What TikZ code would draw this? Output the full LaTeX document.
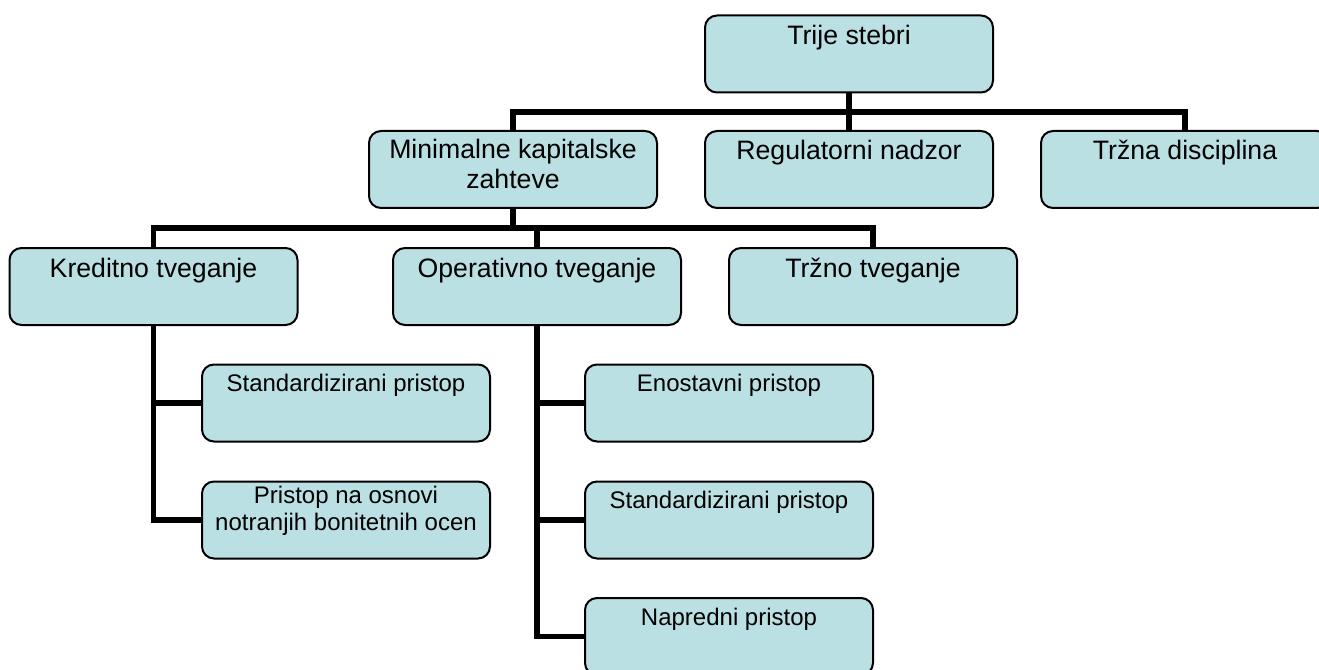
\documentclass[tikz,border=0pt]{standalone}
\usepackage{fontspec}
\setmainfont{Liberation Sans}
\usetikzlibrary{calc}
\definecolor{boxfill}{RGB}{187,224,227}
\begin{document}
\begin{tikzpicture}[x=0.75pt,y=-0.75pt,
  box/.style={draw=black, line width=1.5pt, fill=boxfill, rounded corners=9pt,
    minimum width=216pt, minimum height=57.75pt, inner sep=0pt},
  big/.style={font=\fontsize{20}{22.5}\selectfont, align=center, anchor=base, inner sep=0pt},
  small/.style={font=\fontsize{18}{20.25}\selectfont, align=center, anchor=base, inner sep=0pt},
  conn/.style={line width=4.2pt, line join=miter}]
\useasboundingbox (0,0) rectangle (1319,670);
\clip (0,0) rectangle (1319,670);
% boxes
\node[box] (T)  at (849,54) {};
\node[box] (M)  at (513,169.5) {};
\node[box] (R)  at (849,169.5) {};
\node[box] (D)  at (1185,169.5) {};
\node[box] (K)  at (153.5,286.5) {};
\node[box] (O)  at (537,286.5) {};
\node[box] (Tn) at (873,286.5) {};
\node[box] (KA) at (346,403) {};
\node[box] (KB) at (346,520) {};
\node[box] (OA) at (729,403) {};
\node[box] (OB) at (729,520) {};
\node[box] (OC) at (729,636.5) {};
% texts
\node[big] (tT)  at ($(T.north)+(0,30)$) {Trije stebri};
\node[big] (tM)  at ($(M.north)+(0,59)$) {Minimalne kapitalske\\zahteve};
\node[big] (tR)  at ($(R.north)+(0,30)$) {Regulatorni nadzor};
\node[big] (tD)  at ($(D.north)+(0,30)$) {Tržna disciplina};
\node[big] (tK)  at ($(K.north)+(0,30)$) {Kreditno tveganje};
\node[big] (tO)  at ($(O.north)+(0,30)$) {Operativno tveganje};
\node[big] (tTn) at ($(Tn.north)+(0,30)$) {Tržno tveganje};
\node[small] (tKA) at ($(KA.north)+(0,28)$) {Standardizirani pristop};
\node[small] (tKB) at ($(KB.north)+(0,50)$) {Pristop na osnovi\\notranjih bonitetnih ocen};
\node[small] (tOA) at ($(OA.north)+(0,28)$) {Enostavni pristop};
\node[small] (tOB) at ($(OB.north)+(0,28)$) {Standardizirani pristop};
\node[small] (tOC) at ($(OC.north)+(0,28)$) {Napredni pristop};
% connectors
\coordinate (j1) at ($(T.south)!0.5!(R.north)$);
\draw[conn] (T.south) -- (R.north);
\draw[conn] (M.north) |- (j1) -| (D.north);
\coordinate (j2) at ($(M.south)!0.5!(M.south |- O.north)$);
\draw[conn] (M.south) -- (j2);
\draw[conn] (K.north) |- (Tn.north |- j2) -- (Tn.north);
\draw[conn] (O.north) -- (O.north |- j2);
\draw[conn] (K.south) |- (KB.west);
\draw[conn] (K.south |- KA.west) -- (KA.west);
\draw[conn] (O.south) |- (OC.west);
\draw[conn] (O.south |- OA.west) -- (OA.west);
\draw[conn] (O.south |- OB.west) -- (OB.west);
\end{tikzpicture}
\end{document}
